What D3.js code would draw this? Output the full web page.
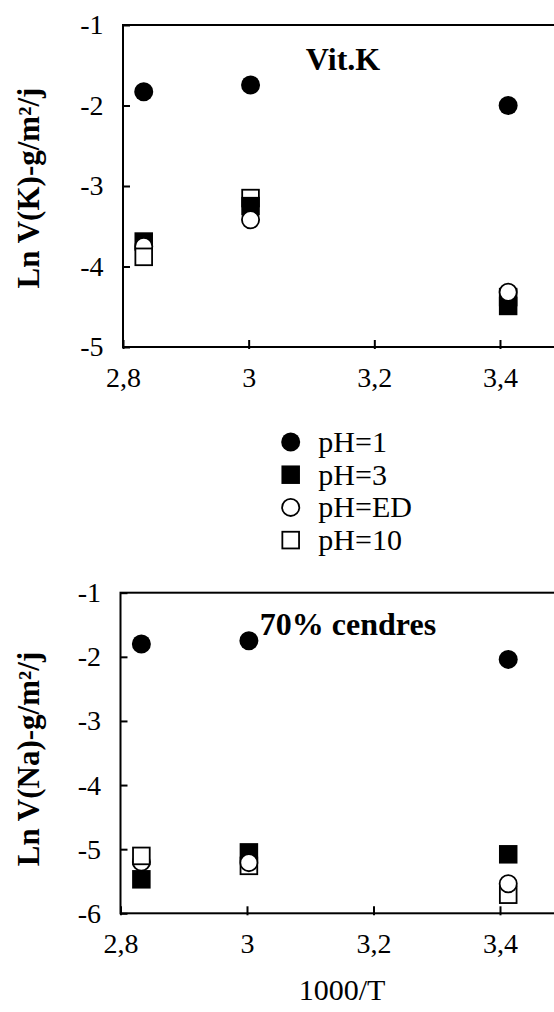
<!DOCTYPE html>
<html><head><meta charset="utf-8">
<script src="https://cdn.jsdelivr.net/npm/d3@7"></script>
<style>
body{margin:0;background:#fff}
svg{display:block}
text{font-family:"Liberation Serif","Times New Roman",serif;fill:#000}
</style>
</head><body><svg id="c" width="554" height="1012"></svg>
<script>
// ---------- data ----------
const xValues = [2.833, 3.003, 3.413];          // 1000/T
const seriesNames = ["pH=1", "pH=3", "pH=ED", "pH=10"];
const xTickValues = [2.8, 3, 3.2, 3.4];
const yTicksTop = [-1, -2, -3, -4, -5];
const yTicksBottom = [-1, -2, -3, -4, -5, -6];

// Vit.K panel  (Ln V(K))
const vitK_pH1  = [-1.83, -1.745, -2.00];
const vitK_pH3  = [-3.69, -3.25, -4.49];
const vitK_pHED = [-3.75, -3.42, -4.32];
const vitK_pH10 = [-3.88, -3.15, -4.38];

// 70% cendres panel (Ln V(Na))
const cend_pH1  = [-1.80, -1.75, -2.04];
const cend_pH3  = [-5.47, -5.05, -5.08];
const cend_pHED = [-5.20, -5.21, -5.54];
const cend_pH10 = [-5.105, -5.26, -5.71];

// stacking order of series at each x position (series indices, first drawn first)
const layerOrder = [[0, 1, 2, 3], [0, 3, 1, 2], [0, 3, 1, 2]];

// ---------- style ----------
const markerKind = ["fcircle", "fsquare", "ocircle", "osquare"];
const R = 9.5, S = 18.5;

const svg = d3.select("#c");
const loc = d3.formatLocale({decimal: ",", thousands: ".", grouping: [3], currency: ["", ""], minus: "-"});
const fmt = loc.format("");

function drawMarker(g, kind, cx, cy) {
  const filled = kind[0] === "f";
  if (kind.endsWith("circle")) {
    g.append("circle").attr("cx", cx).attr("cy", cy).attr("r", filled ? R : R - 0.9)
      .attr("fill", filled ? "#000" : "#fff")
      .attr("stroke", "#000").attr("stroke-width", filled ? 0 : 1.8);
  } else {
    const s = filled ? S : S - 1.8;
    g.append("rect").attr("x", cx - s / 2).attr("y", cy - s / 2).attr("width", s).attr("height", s)
      .attr("fill", filled ? "#000" : "#fff")
      .attr("stroke", "#000").attr("stroke-width", filled ? 0 : 1.8);
  }
}

function panel(cfg) {
  const {x, y, yTicks, series, title, titleY, label, labelX, labelY} = cfg;
  const g = svg.append("g");
  const [yb, yt] = y.range();
  // frame
  g.append("rect").attr("x", x(2.8)).attr("y", yt).attr("width", x(3.6) - x(2.8)).attr("height", yb - yt)
    .attr("fill", "none").attr("stroke", "#000").attr("stroke-width", 2);

  // y axis
  const ya = g.append("g").attr("transform", `translate(${x(2.8)},0)`)
    .call(d3.axisLeft(y).tickValues(yTicks).tickSizeInner(-7).tickSizeOuter(0).tickPadding(19.5).tickFormat(fmt));
  ya.attr("font-size", null).attr("font-family", null);
  ya.select(".domain").remove();
  ya.selectAll("line").attr("stroke-width", 2);
  ya.selectAll("text").attr("font-size", 28);

  // x axis
  const xa = g.append("g").attr("transform", `translate(0,${yb})`)
    .call(d3.axisBottom(x).tickValues(xTickValues).tickSizeInner(-7).tickSizeOuter(0).tickPadding(20).tickFormat(fmt));
  xa.attr("font-size", null).attr("font-family", null);
  xa.select(".domain").remove();
  xa.selectAll("line").attr("stroke-width", 2).attr("y2", -7).attr("y1", 2);
  xa.selectAll("text").attr("font-size", 28);

  // y title
  g.append("text").attr("transform", `translate(39,${titleY}) rotate(-90)`)
    .attr("text-anchor", "middle").attr("font-weight", "bold").attr("font-size", 31).text(title);

  // panel label
  g.append("text").attr("x", labelX).attr("y", labelY)
    .attr("text-anchor", "middle").attr("font-weight", "bold").attr("font-size", 32).text(label);

  // points
  const pts = g.append("g");
  xValues.forEach((xv, i) => {
    layerOrder[i].forEach(si => {
      drawMarker(pts, markerKind[si], x(xv), y(series[si][i]));
    });
  });
}

panel({
  x: d3.scaleLinear().domain([2.8, 3.6]).range([123, 123 + 0.8 * 628.3]),
  y: d3.scaleLinear().domain([-5, -1]).range([347, 25]),
  yTicks: yTicksTop,
  series: [vitK_pH1, vitK_pH3, vitK_pHED, vitK_pH10],
  title: "Ln V(K)-g/m²/j", titleY: 188,
  label: "Vit.K", labelX: 343, labelY: 70
});

panel({
  x: d3.scaleLinear().domain([2.8, 3.6]).range([120.5, 120.5 + 0.8 * 632.5]),
  y: d3.scaleLinear().domain([-6, -1]).range([913.3, 592.7]),
  yTicks: yTicksBottom,
  series: [cend_pH1, cend_pH3, cend_pHED, cend_pH10],
  title: "Ln V(Na)-g/m²/j", titleY: 759,
  label: "70% cendres", labelX: 348, labelY: 635
});

// x axis title
svg.append("text").attr("x", 342).attr("y", 1000)
  .attr("text-anchor", "middle").attr("font-size", 30).text("1000/T");

// legend
const lg = svg.append("g");
seriesNames.forEach((name, i) => {
  const cy = 442 + i * 32.7;
  drawMarker(lg, markerKind[i], 290.7, cy);
  lg.append("text").attr("x", 318.3).attr("y", cy + 10).attr("font-size", 30).text(name);
});
</script>
</body></html>
